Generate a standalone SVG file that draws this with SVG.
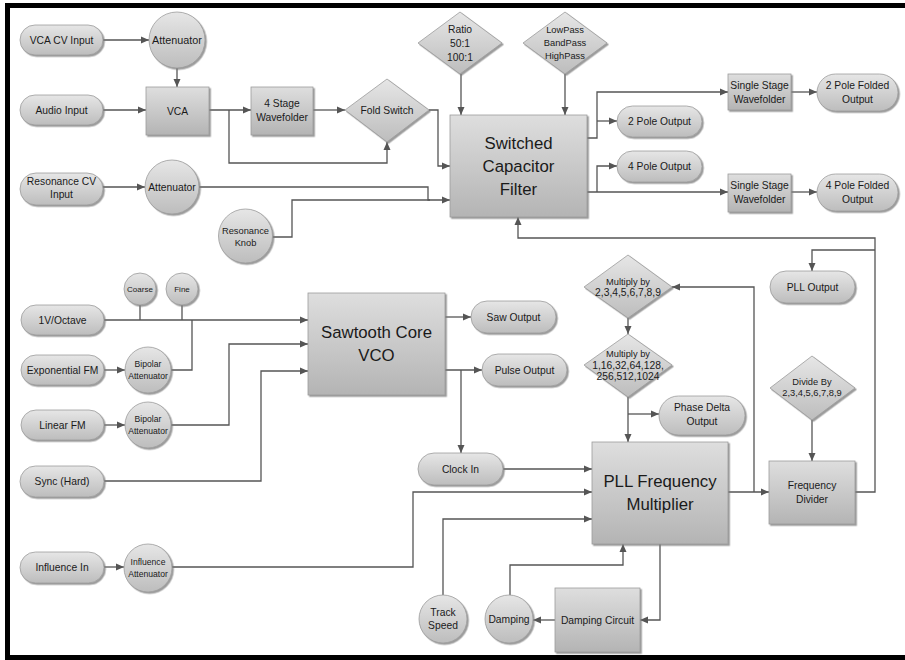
<svg xmlns="http://www.w3.org/2000/svg" width="905" height="660" viewBox="0 0 905 660">
<defs>
<linearGradient id="gp" x1="0" y1="0" x2="0" y2="1"><stop offset="0" stop-color="#e6e6e6"/><stop offset="1" stop-color="#bdbdbd"/></linearGradient>
<linearGradient id="gb" x1="0" y1="0" x2="0" y2="1"><stop offset="0" stop-color="#dedede"/><stop offset="1" stop-color="#b4b4b4"/></linearGradient>
<filter id="sh" x="-10%" y="-10%" width="125%" height="125%"><feDropShadow dx="1.5" dy="1.5" stdDeviation="0.7" flood-color="#7a7a7a" flood-opacity="0.75"/></filter>
<marker id="ar" viewBox="0 0 8 8" refX="8" refY="4" markerWidth="8" markerHeight="8" markerUnits="userSpaceOnUse" orient="auto"><path d="M0,0.5 L8,4 L0,7.5 z" fill="#555"/></marker>
</defs>
<style>
.p,.b,.c,.d{stroke:#9c9c9c;stroke-width:0.8;filter:url(#sh)}
.p,.c,.d{fill:url(#gp)}
.b{fill:url(#gb)}
text{font-family:"Liberation Sans",Arial,sans-serif;fill:#1a1a1a;text-anchor:middle}
.t10{font-size:10.3px}.t9{font-size:9.3px}.t8{font-size:8.6px}.t11{font-size:11px}.big{font-size:16.8px}
#connectors path{fill:none;stroke:#555;stroke-width:1.3}
.a{marker-end:url(#ar)}
</style>
<rect x="7.5" y="5.5" width="905" height="652" fill="#fff" stroke="#000" stroke-width="5"/>

<g id="connectors">
<path class="a" d="M103,40 H149"/>
<path class="a" d="M177,68 V87"/>
<path class="a" d="M103,110 H146"/>
<path class="a" d="M209,110 H251"/>
<path class="a" d="M229,110 V163 H387 V142"/>
<path class="a" d="M313,110 H345"/>
<path class="a" d="M429,110 H438 V166 H450"/>
<path class="a" d="M461,74 V115"/>
<path class="a" d="M565,74 V115"/>
<path class="a" d="M103,187 H145"/>
<path class="a" d="M199,187 H428 V200 H450"/>
<path d="M272,237 H292 V200 H430"/>
<path class="a" d="M587,138 H597 V92 H728"/>
<path class="a" d="M597,121 H617"/>
<path class="a" d="M587,192 H728"/>
<path class="a" d="M597,192 V166 H617"/>
<path class="a" d="M791,92 H817"/>
<path class="a" d="M791,192 H817"/>
<path class="a" d="M855,492 H875 V238 H518 V217"/>
<path class="a" d="M875,250 H812 V271"/>
<path class="a" d="M104,320 H308"/>
<path d="M140,305 V320 M182,305 V320"/>
<path class="a" d="M104,370 H125"/>
<path d="M171,370 H192 V320"/>
<path class="a" d="M104,425 H125"/>
<path class="a" d="M171,425 H229 V344 H308"/>
<path class="a" d="M104,481 H261 V371 H308"/>
<path class="a" d="M445,317 H471"/>
<path class="a" d="M445,370 H482"/>
<path class="a" d="M461,370 V453"/>
<path class="a" d="M503,469 H592"/>
<path class="a" d="M104,567 H124"/>
<path class="a" d="M172,567 H413 V492 H592"/>
<path class="a" d="M443,595 V519 H592"/>
<path class="a" d="M510,595 V565 H623 V544"/>
<path class="a" d="M660,544 V620 H640"/>
<path class="a" d="M555,620 H533"/>
<path class="a" d="M728,492 H769"/>
<path class="a" d="M754,492 V287 H672"/>
<path class="a" d="M628,318 V334"/>
<path class="a" d="M628,397 V442"/>
<path class="a" d="M628,414 H659"/>
<path class="a" d="M812,420 V461"/>
</g>

<g id="vca-cv-input"><rect class="p" x="20" y="25" width="83" height="30" rx="15"/><text class="t10" x="61.5" y="43.6">VCA CV Input</text></g>
<g id="audio-input"><rect class="p" x="20" y="95" width="83" height="30" rx="15"/><text class="t10" x="61.5" y="113.6">Audio Input</text></g>
<g id="resonance-cv-input"><rect class="p" x="20" y="173" width="83" height="32" rx="16"/><text class="t10" x="61.5" y="184.5">Resonance CV</text><text class="t10" x="61.5" y="197.8">Input</text></g>
<g id="attenuator-1"><circle class="c" cx="177" cy="40" r="28"/><text style="font-size:10.8px" x="177" y="43.8">Attenuator</text></g>
<g id="vca"><rect class="b" x="146" y="87" width="63" height="48"/><text class="t10" x="177.5" y="114.6">VCA</text></g>
<g id="wavefolder-4"><rect class="b" x="251" y="87" width="62" height="48"/><text class="t10" x="282" y="107">4 Stage</text><text class="t10" x="282" y="121">Wavefolder</text></g>
<g id="fold-switch"><polygon class="d" points="345,110 387,79 429,110 387,142"/><text class="t10" x="387" y="113.6">Fold Switch</text></g>
<g id="attenuator-2"><circle class="c" cx="172" cy="187" r="27"/><text class="t10" x="172" y="190.6">Attenuator</text></g>
<g id="resonance-knob"><circle class="c" cx="245.5" cy="236" r="27"/><text class="t9" x="245.5" y="233.5">Resonance</text><text class="t9" x="245.5" y="246">Knob</text></g>
<g id="ratio"><polygon class="d" points="418,43 460,12 502,43 460,74"/><text class="t10" x="460" y="32.5">Ratio</text><text class="t10" x="460" y="46.5">50:1</text><text class="t10" x="460" y="60.5">100:1</text></g>
<g id="filter-type"><polygon class="d" points="523,43 565,12 607,43 565,74"/><text class="t9" x="565" y="33">LowPass</text><text class="t9" x="565" y="46">BandPass</text><text class="t9" x="565" y="59">HighPass</text></g>
<g id="switched-capacitor-filter"><rect class="b" x="450" y="115" width="137" height="102"/><text class="big" x="518.5" y="149">Switched</text><text class="big" x="518.5" y="172">Capacitor</text><text class="big" x="518.5" y="195">Filter</text></g>
<g id="single-stage-wavefolder-1"><rect class="b" x="728" y="74" width="63" height="36"/><text class="t10" x="759.5" y="89">Single Stage</text><text class="t10" x="759.5" y="102.5">Wavefolder</text></g>
<g id="two-pole-folded-output"><rect class="p" x="817" y="74" width="81" height="37" rx="18.5"/><text class="t10" x="857.5" y="89">2 Pole Folded</text><text class="t10" x="857.5" y="102.5">Output</text></g>
<g id="two-pole-output"><rect class="p" x="617" y="106" width="85" height="31" rx="15.5"/><text class="t10" x="659.5" y="125">2 Pole Output</text></g>
<g id="four-pole-output"><rect class="p" x="617" y="151" width="85" height="31" rx="15.5"/><text class="t10" x="659.5" y="170">4 Pole Output</text></g>
<g id="single-stage-wavefolder-2"><rect class="b" x="728" y="174" width="63" height="38"/><text class="t10" x="759.5" y="189">Single Stage</text><text class="t10" x="759.5" y="202.5">Wavefolder</text></g>
<g id="four-pole-folded-output"><rect class="p" x="817" y="174" width="81" height="37" rx="18.5"/><text class="t10" x="857.5" y="189">4 Pole Folded</text><text class="t10" x="857.5" y="202.5">Output</text></g>

<g id="coarse"><circle class="c" cx="140" cy="289" r="16"/><text style="font-size:8px" x="140" y="292">Coarse</text></g>
<g id="fine"><circle class="c" cx="182" cy="289" r="16"/><text style="font-size:8px" x="182" y="292">Fine</text></g>
<g id="v-octave"><rect class="p" x="21" y="305" width="83" height="30" rx="15"/><text class="t10" x="62.5" y="323.6">1V/Octave</text></g>
<g id="exponential-fm"><rect class="p" x="21" y="355" width="83" height="30" rx="15"/><text class="t10" x="62.5" y="373.6">Exponential FM</text></g>
<g id="bipolar-attenuator-1"><circle class="c" cx="148" cy="370" r="23"/><text class="t8" x="148" y="367">Bipolar</text><text class="t8" x="148" y="378.5">Attenuator</text></g>
<g id="linear-fm"><rect class="p" x="21" y="410" width="83" height="30" rx="15"/><text class="t10" x="62.5" y="428.6">Linear FM</text></g>
<g id="bipolar-attenuator-2"><circle class="c" cx="148" cy="425" r="23"/><text class="t8" x="148" y="422">Bipolar</text><text class="t8" x="148" y="433.5">Attenuator</text></g>
<g id="sync-hard"><rect class="p" x="20" y="466" width="84" height="31" rx="15.5"/><text class="t10" x="62" y="485">Sync (Hard)</text></g>
<g id="influence-in"><rect class="p" x="20" y="552" width="84" height="31" rx="15.5"/><text class="t10" x="62" y="571">Influence In</text></g>
<g id="influence-attenuator"><circle class="c" cx="148" cy="568" r="24"/><text class="t8" x="148" y="565">Influence</text><text class="t8" x="148" y="576.5">Attenuator</text></g>

<g id="sawtooth-core-vco"><rect class="b" x="308" y="293" width="137" height="102"/><text class="big" x="376.5" y="338">Sawtooth Core</text><text class="big" x="376.5" y="361">VCO</text></g>
<g id="saw-output"><rect class="p" x="471" y="301" width="85" height="32" rx="16"/><text class="t10" x="513.5" y="320.6">Saw Output</text></g>
<g id="pulse-output"><rect class="p" x="482" y="354" width="85" height="32" rx="16"/><text class="t10" x="524.5" y="373.6">Pulse Output</text></g>
<g id="clock-in"><rect class="p" x="418" y="453" width="85" height="32" rx="16"/><text class="t10" x="460.5" y="472.6">Clock In</text></g>

<g id="multiply-1"><polygon class="d" points="584,287 628,255 672,287 628,318"/><text class="t9" x="628" y="284.5">Multiply by</text><text class="t10" x="628" y="296">2,3,4,5,6,7,8,9</text></g>
<g id="multiply-2"><polygon class="d" points="584,365 628,334 672,365 628,397"/><text class="t9" x="628" y="357">Multiply by</text><text class="t10" x="628" y="368.5">1,16,32,64,128,</text><text class="t10" x="628" y="380">256,512,1024</text></g>
<g id="phase-delta-output"><rect class="p" x="659" y="396" width="86" height="39" rx="19.5"/><text class="t10" x="702" y="411">Phase Delta</text><text class="t10" x="702" y="425">Output</text></g>
<g id="pll-output"><rect class="p" x="770" y="271" width="85" height="32" rx="16"/><text class="t10" x="812.5" y="290.6">PLL Output</text></g>
<g id="divide-by"><polygon class="d" points="770,388 812,356 855,388 812,420"/><text class="t9" x="812" y="385">Divide By</text><text class="t9" x="812" y="396">2,3,4,5,6,7,8,9</text></g>
<g id="pll-frequency-multiplier"><rect class="b" x="592" y="442" width="136" height="102"/><text class="big" x="660" y="487">PLL Frequency</text><text class="big" x="660" y="510">Multiplier</text></g>
<g id="frequency-divider"><rect class="b" x="769" y="461" width="86" height="63"/><text class="t10" x="812" y="489">Frequency</text><text class="t10" x="812" y="502.5">Divider</text></g>
<g id="track-speed"><circle class="c" cx="443" cy="619" r="24"/><text class="t10" x="443" y="616">Track</text><text class="t10" x="443" y="629">Speed</text></g>
<g id="damping"><circle class="c" cx="509" cy="619" r="24"/><text class="t10" x="509" y="622.6">Damping</text></g>
<g id="damping-circuit"><rect class="b" x="555" y="588" width="85" height="64"/><text class="t10" x="597.5" y="623.6">Damping Circuit</text></g>
</svg>
